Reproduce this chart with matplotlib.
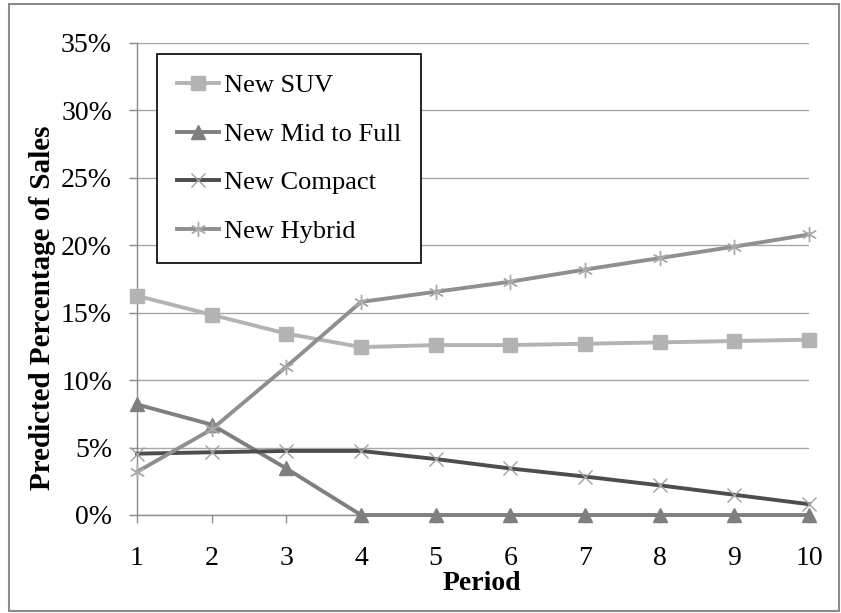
import numpy as np
import matplotlib
matplotlib.use("Agg")
import matplotlib.pyplot as plt
from matplotlib.patches import Rectangle
from matplotlib.ticker import FuncFormatter

# ------------------------------
# DATA
# ------------------------------

periods = [1, 2, 3, 4, 5, 6, 7, 8, 9, 10]

new_suv = [16.25, 14.85, 13.45, 12.45, 12.6, 12.6, 12.7, 12.8, 12.9, 13.0]
new_mid_full = [8.2, 6.7, 3.45, 0, 0, 0, 0, 0, 0, 0]
new_compact = [4.55, 4.65, 4.75, 4.75, 4.15, 3.45, 2.85, 2.2, 1.5, 0.8]
new_hybrid = [3.2, 6.35, 11.0, 15.8, 16.55, 17.3, 18.2, 19.05, 19.9, 20.8]

series_names = ["New SUV", "New Mid to Full", "New Compact", "New Hybrid"]

# ------------------------------
# FIGURE SETUP
# ------------------------------

plt.rcParams["font.family"] = ["Liberation Serif", "DejaVu Serif"]

W, H = 841, 613
fig = plt.figure(figsize=(W / 100, H / 100), dpi=100)
ax = fig.add_axes([137 / W, 1 - 515 / H, 672 / W, 472 / H])

# chart area border
fig.patches.append(Rectangle((9 / W, 2 / H), (W - 11) / W, (H - 6) / H,
                             transform=fig.transFigure, fill=False,
                             edgecolor="#8c8c8c", linewidth=1.5))

# ------------------------------
# SERIES
# ------------------------------

lw = 2.8
ax.plot(periods, new_suv, color="#b3b3b3", linewidth=lw, marker="s",
        markersize=9.5, label=series_names[0], clip_on=False, zorder=3)
ax.plot(periods, new_mid_full, color="#7f7f7f", linewidth=lw, marker="^",
        markersize=10.5, label=series_names[1], clip_on=False, zorder=3)
ax.plot(periods, new_compact, color="#4d4d4d", linewidth=lw, marker="x",
        markersize=10, markeredgecolor="#a0a0a0", markeredgewidth=1.0,
        label=series_names[2], clip_on=False, zorder=3)
ax.plot(periods, new_hybrid, color="#8f8f8f", linewidth=lw, marker=(6, 2, 0),
        markersize=11, markeredgecolor="#ababab", markeredgewidth=1.0,
        label=series_names[3], clip_on=False, zorder=3)

# ------------------------------
# AXES
# ------------------------------

ax.set_xlim(1, 10)
ax.set_ylim(0, 35)
ax.set_xticks(periods)
ax.set_yticks(np.arange(0, 36, 5))
ax.yaxis.set_major_formatter(FuncFormatter(lambda v, p: f"{v:.0f}%"))

ax.grid(axis="y", color="#a6a6a6", linewidth=1.0)
ax.set_axisbelow(True)
for s in ["top", "right"]:
    ax.spines[s].set_visible(False)
for s in ["left", "bottom"]:
    ax.spines[s].set_color("#8c8c8c")
    ax.spines[s].set_linewidth(1.0)

ax.tick_params(axis="both", labelsize=20, colors="#8c8c8c", labelcolor="black",
               length=6, width=1.0, direction="out")
ax.tick_params(axis="y", pad=12)
ax.tick_params(axis="x", pad=16)

fig.text(482 / W, 1 - 583 / H, "Period", ha="center", va="center",
         fontsize=20, fontweight="bold")
fig.text(43 / W, 1 - 308 / H, "Predicted Percentage of Sales", rotation=90,
         ha="center", va="center", fontsize=21, fontweight="bold")

leg = ax.legend(loc="upper left", bbox_to_anchor=(20 / 672, (515 - 54) / 472),
                borderaxespad=0, fontsize=19, fancybox=False, framealpha=1,
                edgecolor="black", handlelength=1.6, handletextpad=0.2,
                labelspacing=0.95, borderpad=0.75)
leg.get_frame().set_linewidth(1.2)

fig.savefig("out.png", dpi=100)
